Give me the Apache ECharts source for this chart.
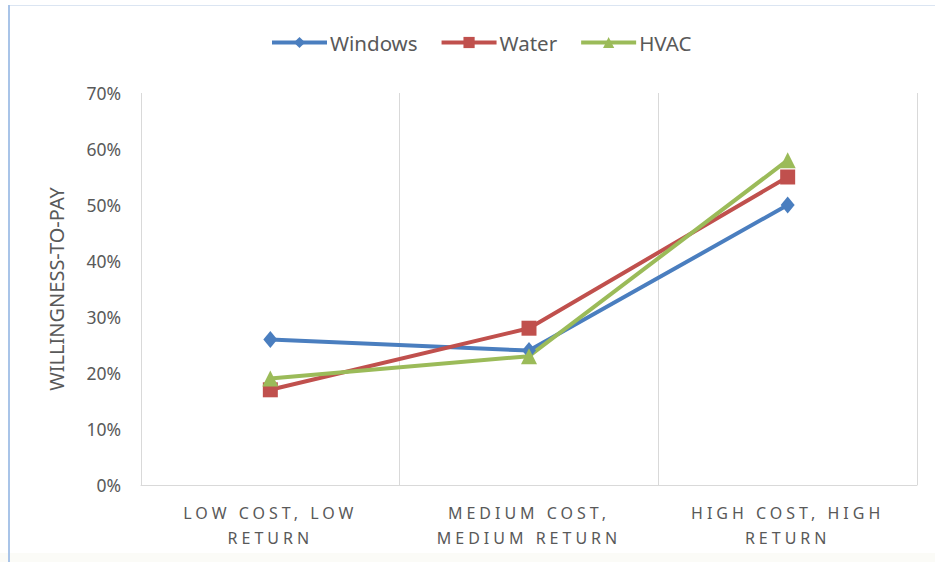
<!DOCTYPE html>
<html>
<head>
<meta charset="utf-8">
<script src="https://cdn.jsdelivr.net/npm/echarts@6/dist/echarts.min.js"></script>
<style>
  html, body { margin: 0; padding: 0; background: #ffffff; }
  #chart { width: 935px; height: 562px; }
</style>
</head>
<body>
<div id="chart"></div>
<script>
// Categories (cost / return scenarios) and willingness-to-pay per upgrade type, in percent
const categories = ['LOW COST, LOW\nRETURN', 'MEDIUM COST,\nMEDIUM RETURN', 'HIGH COST, HIGH\nRETURN'];
const windowsValues = [26, 24, 50];
const waterValues = [17, 28, 55];
const hvacValues = [19, 23, 58];
const yTicks = { min: 0, max: 70, interval: 10 };
const yAxisTitle = 'WILLINGNESS-TO-PAY';

const textColor = '#595959';
const gridColor = '#d9d9d9';
const font = 'Noto Sans';

const chart = echarts.init(document.getElementById('chart'), null, { renderer: 'svg' });

function lineSeries(name, data, color, symbol, size) {
  return {
    name: name,
    type: 'line',
    data: data,
    symbol: symbol,
    symbolSize: size,
    lineStyle: { width: 4, color: color },
    itemStyle: { color: color },
    emphasis: { disabled: true }
  };
}

chart.setOption({
  animation: false,
  backgroundColor: '#ffffff',
  textStyle: { fontFamily: font },
  graphic: [
    { type: 'rect', left: 0, top: 553, shape: { width: 935, height: 9 }, style: { fill: '#fbfbf7' }, silent: true },
    { type: 'rect', left: 8, top: 5, shape: { width: 927, height: 1 }, style: { fill: '#dbe5f2' }, silent: true },
    { type: 'rect', left: 8, top: 5, shape: { width: 2, height: 557 }, style: { fill: '#a9c4e8' }, silent: true }
  ],
  legend: {
    top: 27,
    left: 265,
    itemWidth: 55,
    itemHeight: 14,
    itemGap: 22,
    lineStyle: { width: 4 },
    textStyle: { color: textColor, fontSize: 20.5, fontFamily: font, padding: [0, 0, 0, -2] },
    data: ['Windows', 'Water', 'HVAC']
  },
  grid: { left: 141, right: 18, top: 93, bottom: 77, containLabel: false },
  xAxis: {
    type: 'category',
    data: categories,
    boundaryGap: true,
    axisLine: { show: true, lineStyle: { color: gridColor, width: 1 } },
    axisTick: { show: false },
    splitLine: { show: true, showMinLine: true, showMaxLine: true, lineStyle: { color: gridColor, width: 1 } },
    axisLabel: {
      color: textColor,
      fontSize: 16,
      lineHeight: 25,
      margin: 15,
      fontFamily: font,
      interval: 0
    }
  },
  yAxis: {
    type: 'value',
    min: yTicks.min,
    max: yTicks.max,
    interval: yTicks.interval,
    name: yAxisTitle,
    nameLocation: 'middle',
    nameGap: 75,
    nameTextStyle: { color: textColor, fontSize: 20, fontFamily: font },
    axisLine: { show: false },
    axisTick: { show: false },
    splitLine: { show: false },
    axisLabel: {
      color: textColor,
      fontSize: 17.5,
      margin: 20,
      fontFamily: font,
      formatter: '{value}%'
    }
  },
  series: [
    lineSeries('Windows', windowsValues, '#4a7ebf', 'diamond', [14, 17]),
    lineSeries('Water', waterValues, '#c0504d', 'rect', 15),
    lineSeries('HVAC', hvacValues, '#9bbb59', 'triangle', 16)
  ]
});

// Spread out the letters of the category labels
const categoryLines = new Set();
categories.forEach(function (c) { c.split('\n').forEach(function (l) { categoryLines.add(l.trim()); }); });
function spaceCategoryLabels() {
  document.querySelectorAll('#chart svg text').forEach(function (t) {
    if (categoryLines.has(t.textContent.trim())) {
      t.style.letterSpacing = '4px';
    }
  });
}
chart.on('finished', spaceCategoryLabels);
spaceCategoryLabels();
</script>
</body>
</html>
